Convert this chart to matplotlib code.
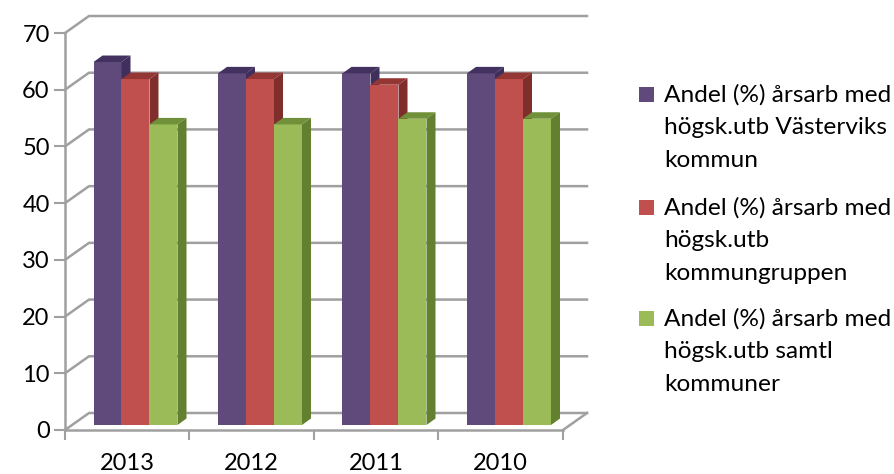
import matplotlib
matplotlib.use("Agg")
import matplotlib.pyplot as plt
from matplotlib.patches import Polygon, Rectangle

years = ['2013', '2012', '2011', '2010']
kommun = [64, 62, 62, 62]
kommungruppen = [61, 61, 60, 61]
samtliga = [53, 53, 54, 54]
y_ticks = [0, 10, 20, 30, 40, 50, 60, 70]

labels = ['Andel (%) årsarb med\nhögsk.utb Västerviks\nkommun',
          'Andel (%) årsarb med\nhögsk.utb\nkommungruppen',
          'Andel (%) årsarb med\nhögsk.utb samtl\nkommuner']

front = ['#604A7B', '#C0504D', '#9BBB59']
top = ['#43325F', '#933634', '#71903A']
side = ['#3F2F5C', '#7F2E2C', '#62802F']
grid = '#A0A0A0'

plt.rcParams['font.family'] = ['Lato', 'DejaVu Sans']

W, H = 895, 474
fig = plt.figure(figsize=(W / 100, H / 100), dpi=100)
ax = fig.add_axes([65 / W, (H - 430) / H, 498 / W, 397 / H])
ax.set_xlim(0, 4)
ax.set_ylim(0, 70)

# fake 3d: depth of the chart box and of the bars, in data units
px = 4 / 498
py = 70 / 397
dx, dy = 24 * px, 17 * py
bar_dx, bar_dy = 9 * px, 6.5 * py
bar_w = 28 * px
x0 = 28.5 * px
base = 5 * py

# walls
for v in y_ticks:
    ax.plot([0, dx, 4 + dx], [v, v + dy, v + dy], color=grid, lw=1.8, clip_on=False, zorder=1)
ax.plot([4, 4 + dx], [0, dy], color=grid, lw=1.8, clip_on=False, zorder=1)

series = [kommun, kommungruppen, samtliga]
for s, vals in enumerate(series):
    for i, v in enumerate(vals):
        x = i + x0 + s * bar_w
        ax.bar(x, v, bar_w, bottom=base, align='edge', color=front[s], zorder=3 + s, clip_on=False)
        t = base + v
        ax.add_patch(Polygon([(x, t), (x + bar_w, t), (x + bar_w + bar_dx, t + bar_dy), (x + bar_dx, t + bar_dy)],
                             closed=True, fc=top[s], ec='none', zorder=3 + s, clip_on=False))
        ax.add_patch(Polygon([(x + bar_w, base), (x + bar_w + bar_dx, base + bar_dy),
                              (x + bar_w + bar_dx, t + bar_dy), (x + bar_w, t)],
                             closed=True, fc=side[s], ec='none', zorder=3 + s, clip_on=False))

for sp in ['top', 'right']:
    ax.spines[sp].set_visible(False)
for sp in ['left', 'bottom']:
    ax.spines[sp].set_color(grid)
    ax.spines[sp].set_linewidth(1.8)
    ax.spines[sp].set_zorder(2)

ax.set_yticks(y_ticks)
ax.tick_params(axis='y', length=8, width=1.5, color=grid, labelsize=17, labelcolor='black', pad=3)
ax.set_xticks(range(5))
ax.set_xticklabels([])
ax.tick_params(axis='x', which='major', length=7, width=1.5, color=grid)
ax.set_xticks([i + 0.5 for i in range(4)], minor=True)
ax.set_xticklabels(years, minor=True, fontsize=17)
ax.tick_params(axis='x', which='minor', length=0, pad=16.5)

# legend placed by hand, first line lines up with the swatch
legend_y = [84, 197, 308]
for color, label, y in zip(front, labels, legend_y):
    fig.add_artist(Rectangle((639 / W, 1 - (y + 18) / H), 15 / W, 15 / H, transform=fig.transFigure,
                             fc=color, ec='none'))
    fig.text(664 / W, 1 - y / H, label, fontsize=17.6, va='top', ha='left', linespacing=1.7, color='black')

fig.savefig('out.png', dpi=100)
